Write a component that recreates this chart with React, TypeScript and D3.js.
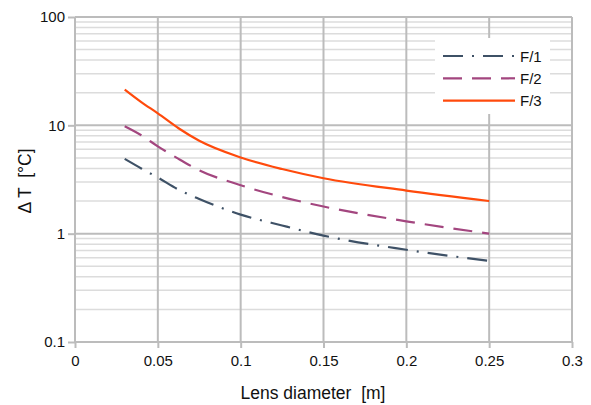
import React, { useRef, useEffect } from 'react';
import * as d3 from 'd3';

// lens diameter [m]
const diameters = [0.03, 0.04, 0.05, 0.0625, 0.075, 0.1, 0.125, 0.15, 0.2, 0.25];
// temperature rise [°C] per f-number
const f1 = [4.9, 4.0, 3.3, 2.55, 2.09, 1.5, 1.19, 0.96, 0.71, 0.56];
const f2 = [9.8, 8.1, 6.4, 4.9, 3.85, 2.8, 2.18, 1.78, 1.3, 1.0];
const f3 = [21.4, 16.4, 12.9, 9.4, 7.2, 5.05, 3.95, 3.25, 2.5, 2.0];

const seriesNames = ['F/1', 'F/2', 'F/3'];
const seriesColors = ['#3e5166', '#a3467f', '#ff4a0c'];
const seriesDash = ['20 9 2 9', '19 10', null];

const xTicks = [0, 0.05, 0.1, 0.15, 0.2, 0.25, 0.3];
const yTicks = [0.1, 1, 10, 100];

function App() {
  const ref = useRef<SVGSVGElement>(null);

  useEffect(() => {
    const width = 591;
    const height = 405;
    const margin = { top: 17, right: 19, bottom: 63, left: 75 };

    const svg = d3.select(ref.current);
    svg.selectAll('*').remove();

    const x = d3.scaleLinear().domain([0, 0.3]).range([margin.left, width - margin.right]);
    const y = d3.scaleLog().domain([0.1, 100]).range([height - margin.bottom, margin.top]);

    const font = 'Liberation Sans, Arial, sans-serif';

    // minor horizontal grid
    const minor: number[] = [];
    [0.1, 1, 10].forEach(d => {
      for (let k = 2; k <= 9; k++) minor.push(d * k);
    });
    svg.append('g')
      .selectAll('line')
      .data(minor)
      .join('line')
      .attr('x1', x(0))
      .attr('x2', x(0.3))
      .attr('y1', d => y(d))
      .attr('y2', d => y(d))
      .attr('stroke', '#dcdcdc')
      .attr('stroke-width', 1.5);

    // major grid
    svg.append('g')
      .selectAll('line')
      .data(yTicks)
      .join('line')
      .attr('x1', x(0))
      .attr('x2', x(0.3))
      .attr('y1', d => y(d))
      .attr('y2', d => y(d))
      .attr('stroke', '#bcbcbc')
      .attr('stroke-width', 2);

    svg.append('g')
      .selectAll('line')
      .data(xTicks)
      .join('line')
      .attr('x1', d => x(d))
      .attr('x2', d => x(d))
      .attr('y1', y(0.1))
      .attr('y2', y(100))
      .attr('stroke', '#bcbcbc')
      .attr('stroke-width', 2);

    // axes
    const yAxis = svg.append('g')
      .attr('transform', 'translate(' + x(0) + ',0)')
      .call(d3.axisLeft(y).tickValues(yTicks).tickFormat(d => String(d)).tickSize(7).tickPadding(3));
    yAxis.select('.domain').remove();
    yAxis.selectAll('line').attr('stroke', '#bcbcbc').attr('stroke-width', 2);
    yAxis.selectAll('text').attr('font-family', font).attr('font-size', 15).attr('fill', '#111');

    const xAxis = svg.append('g')
      .attr('transform', 'translate(0,' + y(0.1) + ')')
      .call(d3.axisBottom(x).tickValues(xTicks).tickFormat(d => String(d)).tickSize(6).tickPadding(7));
    xAxis.select('.domain').remove();
    xAxis.selectAll('line').attr('stroke', '#bcbcbc').attr('stroke-width', 2);
    xAxis.selectAll('text').attr('font-family', font).attr('font-size', 15).attr('fill', '#111');

    // axis titles
    svg.append('text')
      .attr('x', 313)
      .attr('y', 399)
      .attr('text-anchor', 'middle')
      .attr('font-family', font)
      .attr('font-size', 17.5)
      .attr('fill', '#111')
      .style('white-space', 'pre')
      .text('Lens diameter  [m]');

    svg.append('text')
      .attr('transform', 'translate(31,181) rotate(-90)')
      .attr('text-anchor', 'middle')
      .attr('font-family', font)
      .attr('font-size', 17.5)
      .attr('fill', '#111')
      .style('white-space', 'pre')
      .text('Δ T  [°C]');

    // series
    const allSeries = [f1, f2, f3];
    const line = d3.line<number>()
      .x((_, i) => x(diameters[i]))
      .y(d => y(d))
      .curve(d3.curveMonotoneX);

    allSeries.forEach((vals, i) => {
      svg.append('path')
        .datum(vals)
        .attr('d', line)
        .attr('fill', 'none')
        .attr('stroke', seriesColors[i])
        .attr('stroke-width', 2.2)
        .attr('stroke-dasharray', seriesDash[i]);
    });

    // legend
    const legend = svg.append('g');
    legend.append('rect')
      .attr('x', 435)
      .attr('y', 38)
      .attr('width', 115)
      .attr('height', 76)
      .attr('fill', '#fff');

    seriesNames.forEach((name, i) => {
      const ly = 56 + i * 22.3;
      legend.append('line')
        .attr('x1', 443)
        .attr('x2', 515)
        .attr('y1', ly)
        .attr('y2', ly)
        .attr('stroke', seriesColors[i])
        .attr('stroke-width', 2.2)
        .attr('stroke-dasharray', seriesDash[i]);
      legend.append('text')
        .attr('x', 520)
        .attr('y', ly + 5.5)
        .attr('font-family', font)
        .attr('font-size', 15)
        .attr('fill', '#111')
        .text(name);
    });
  }, []);

  return (
    <svg ref={ref} width="591" height="405" style={{ position: 'absolute', left: 0, top: 0, background: '#fff' }} />
  );
}

export default App;
